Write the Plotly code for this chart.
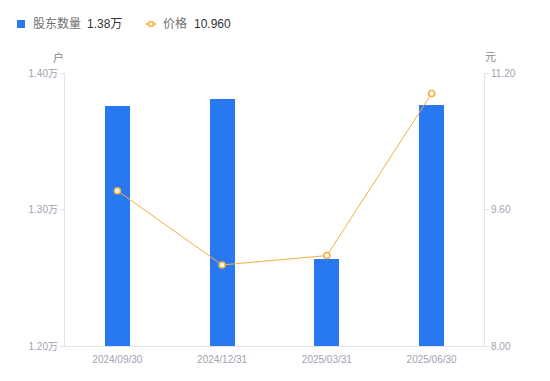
import plotly.graph_objects as go

categories = ["2024/09/30", "2024/12/31", "2025/03/31", "2025/06/30"]
holders = [1.376, 1.381, 1.2637, 1.3763]  # 万户
price = [9.82, 8.95, 9.06, 10.96]
left_ticks = [1.20, 1.30, 1.40]
left_ticktext = ["1.20万", "1.30万", "1.40万"]
right_ticks = [8.00, 9.60, 11.20]
right_ticktext = ["8.00", "9.60", "11.20"]
legend_names = ["股东数量", "价格"]
legend_values = ["1.38万", "10.960"]

FONT = "Liberation Sans, Noto Sans CJK SC, sans-serif"
BLUE = "#2878F2"
ORANGE = "#F6AE3C"
AXIS = "#E3E3E8"
TICK = "#A0A2B2"

W, H = 542, 373
L, T, R, B = 57, 65, 66, 35
PW, PH = W - L - R, H - T - B
OFF = 8  # page body margin


def px(xp):
    return (xp - OFF - L) / PW


def py(yp):
    return 1 - (yp - OFF - T) / PH


fig = go.Figure()
fig.add_trace(go.Bar(
    x=categories, y=holders, name=legend_names[0],
    marker=dict(color=BLUE, line=dict(width=0)), width=0.24, yaxis="y",
))
fig.add_trace(go.Scatter(
    x=categories, y=price, name=legend_names[1],
    mode="lines+markers", yaxis="y2",
    line=dict(color=ORANGE, width=1),
    marker=dict(symbol="circle", size=6, color="white", line=dict(color=ORANGE, width=1.6)),
))

ly = py(24)
shapes = [
    dict(type="rect", xref="paper", yref="paper", x0=px(17), x1=px(25), y0=py(20), y1=py(28),
         fillcolor=BLUE, line=dict(width=0)),
    dict(type="line", xref="paper", yref="paper", x0=px(145.5), x1=px(156.5), y0=ly, y1=ly,
         line=dict(color=ORANGE, width=1.5)),
    dict(type="circle", xref="paper", yref="paper", x0=px(148.5), x1=px(153.5), y0=py(21.5), y1=py(26.5),
         fillcolor="white", line=dict(color=ORANGE, width=1.6)),
]

annotations = [
    dict(text=legend_names[0], xref="paper", yref="paper", x=px(31), y=ly, xanchor="left", yanchor="middle",
         showarrow=False, font=dict(size=12, color="#707070")),
    dict(text=legend_values[0], xref="paper", yref="paper", x=px(85), y=ly, xanchor="left", yanchor="middle",
         showarrow=False, font=dict(size=12, color="#333")),
    dict(text=legend_names[1], xref="paper", yref="paper", x=px(161), y=ly, xanchor="left", yanchor="middle",
         showarrow=False, font=dict(size=12, color="#707070")),
    dict(text=legend_values[1], xref="paper", yref="paper", x=px(192), y=ly, xanchor="left", yanchor="middle",
         showarrow=False, font=dict(size=12, color="#333")),
    dict(text="户", xref="paper", yref="paper", x=px(58), y=py(57), xanchor="center", yanchor="middle",
         showarrow=False, font=dict(size=11, color="#888")),
    dict(text="元", xref="paper", yref="paper", x=px(490), y=py(57), xanchor="center", yanchor="middle",
         showarrow=False, font=dict(size=11, color="#888")),
]

fig.update_layout(
    width=W, height=H,
    margin=dict(l=L, r=R, t=T, b=B),
    paper_bgcolor="white", plot_bgcolor="white",
    font=dict(family=FONT, size=12, color="#666"),
    showlegend=False,
    bargap=0,
    xaxis=dict(showgrid=False, showline=True, linecolor=AXIS, linewidth=1,
               ticks="", ticklabelstandoff=4, tickfont=dict(size=10, color=TICK), zeroline=False),
    yaxis=dict(range=[1.20, 1.40], tickvals=left_ticks, ticktext=left_ticktext,
               showgrid=False, showline=True, linecolor=AXIS, linewidth=1,
               ticks="outside", ticklen=4, tickcolor=AXIS,
               tickfont=dict(size=10, color=TICK), zeroline=False),
    yaxis2=dict(range=[8.00, 11.20], tickvals=right_ticks, ticktext=right_ticktext,
                overlaying="y", side="right",
                showgrid=False, showline=True, linecolor=AXIS, linewidth=1,
                ticks="outside", ticklen=4, tickcolor=AXIS,
                tickfont=dict(size=10, color=TICK), zeroline=False),
    shapes=shapes,
    annotations=annotations,
)

fig.write_html("out.html")
